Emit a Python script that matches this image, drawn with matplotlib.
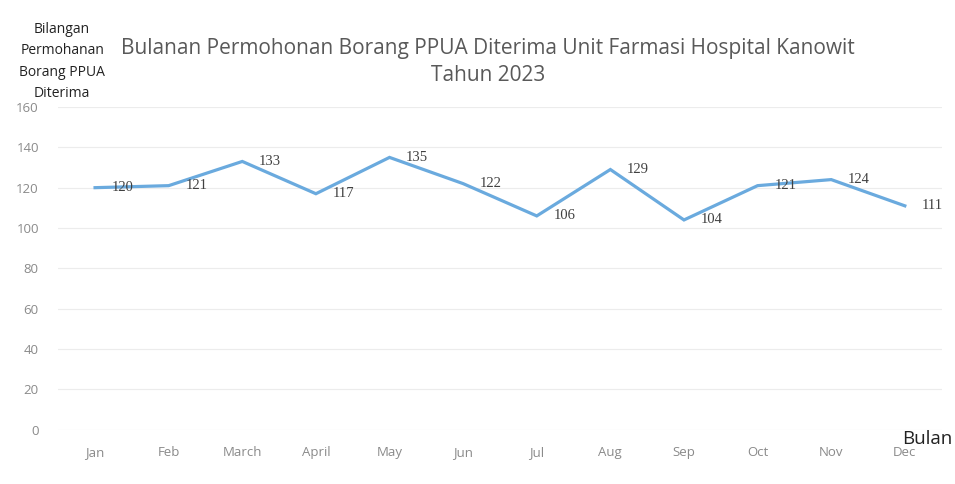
import matplotlib.pyplot as plt

months = ["Jan", "Feb", "March", "April", "May", "Jun", "Jul", "Aug", "Sep", "Oct", "Nov", "Dec"]
permohonan = [120, 121, 133, 117, 135, 122, 106, 129, 104, 121, 124, 111]
y_ticks = [0, 20, 40, 60, 80, 100, 120, 140, 160]

plt.rcParams['font.family'] = ['Open Sans', 'DejaVu Sans']

fig = plt.figure(figsize=(9.55, 4.84), dpi=100)
ax = fig.add_axes([0.061, 0.112, 0.925, 0.667])

x = list(range(len(months)))
ax.plot(x, permohonan, color="#6aaade", linewidth=2.3, solid_joinstyle="miter")
for xi, v in zip(x, permohonan):
    ax.annotate(str(v), (xi, v), xytext=(12, 0), textcoords="offset points",
                ha="left", va="center", fontsize=10.5, color="#404040",
                family="Liberation Serif")

ax.set_xlim(-0.5, len(months) - 0.5)
ax.set_ylim(0, 160)
ax.set_yticks(y_ticks)
ax.set_xticks(x)
ax.set_xticklabels(months)
ax.tick_params(axis="both", length=0, colors="#8a8a8a", labelsize=9.5)
ax.tick_params(axis="x", pad=12)
ax.tick_params(axis="y", pad=14)
ax.grid(axis="y", color="#ececec", linewidth=0.8)
ax.set_axisbelow(True)
for s in ax.spines.values():
    s.set_visible(False)

fig.text(0.511, 0.872, "Bulanan Permohonan Borang PPUA Diterima Unit Farmasi Hospital Kanowit\nTahun 2023",
         ha="center", va="center", fontsize=15, color="#595959", linespacing=1.35)
fig.text(0.065, 0.873, "Bilangan\nPermohanan\nBorang PPUA\nDiterima",
         ha="center", va="center", fontsize=10, color="#222222", linespacing=1.6)
fig.text(0.945, 0.093, "Bulan", ha="left", va="center", fontsize=13.5, color="#222222")

fig.savefig("out.png", dpi=100)
